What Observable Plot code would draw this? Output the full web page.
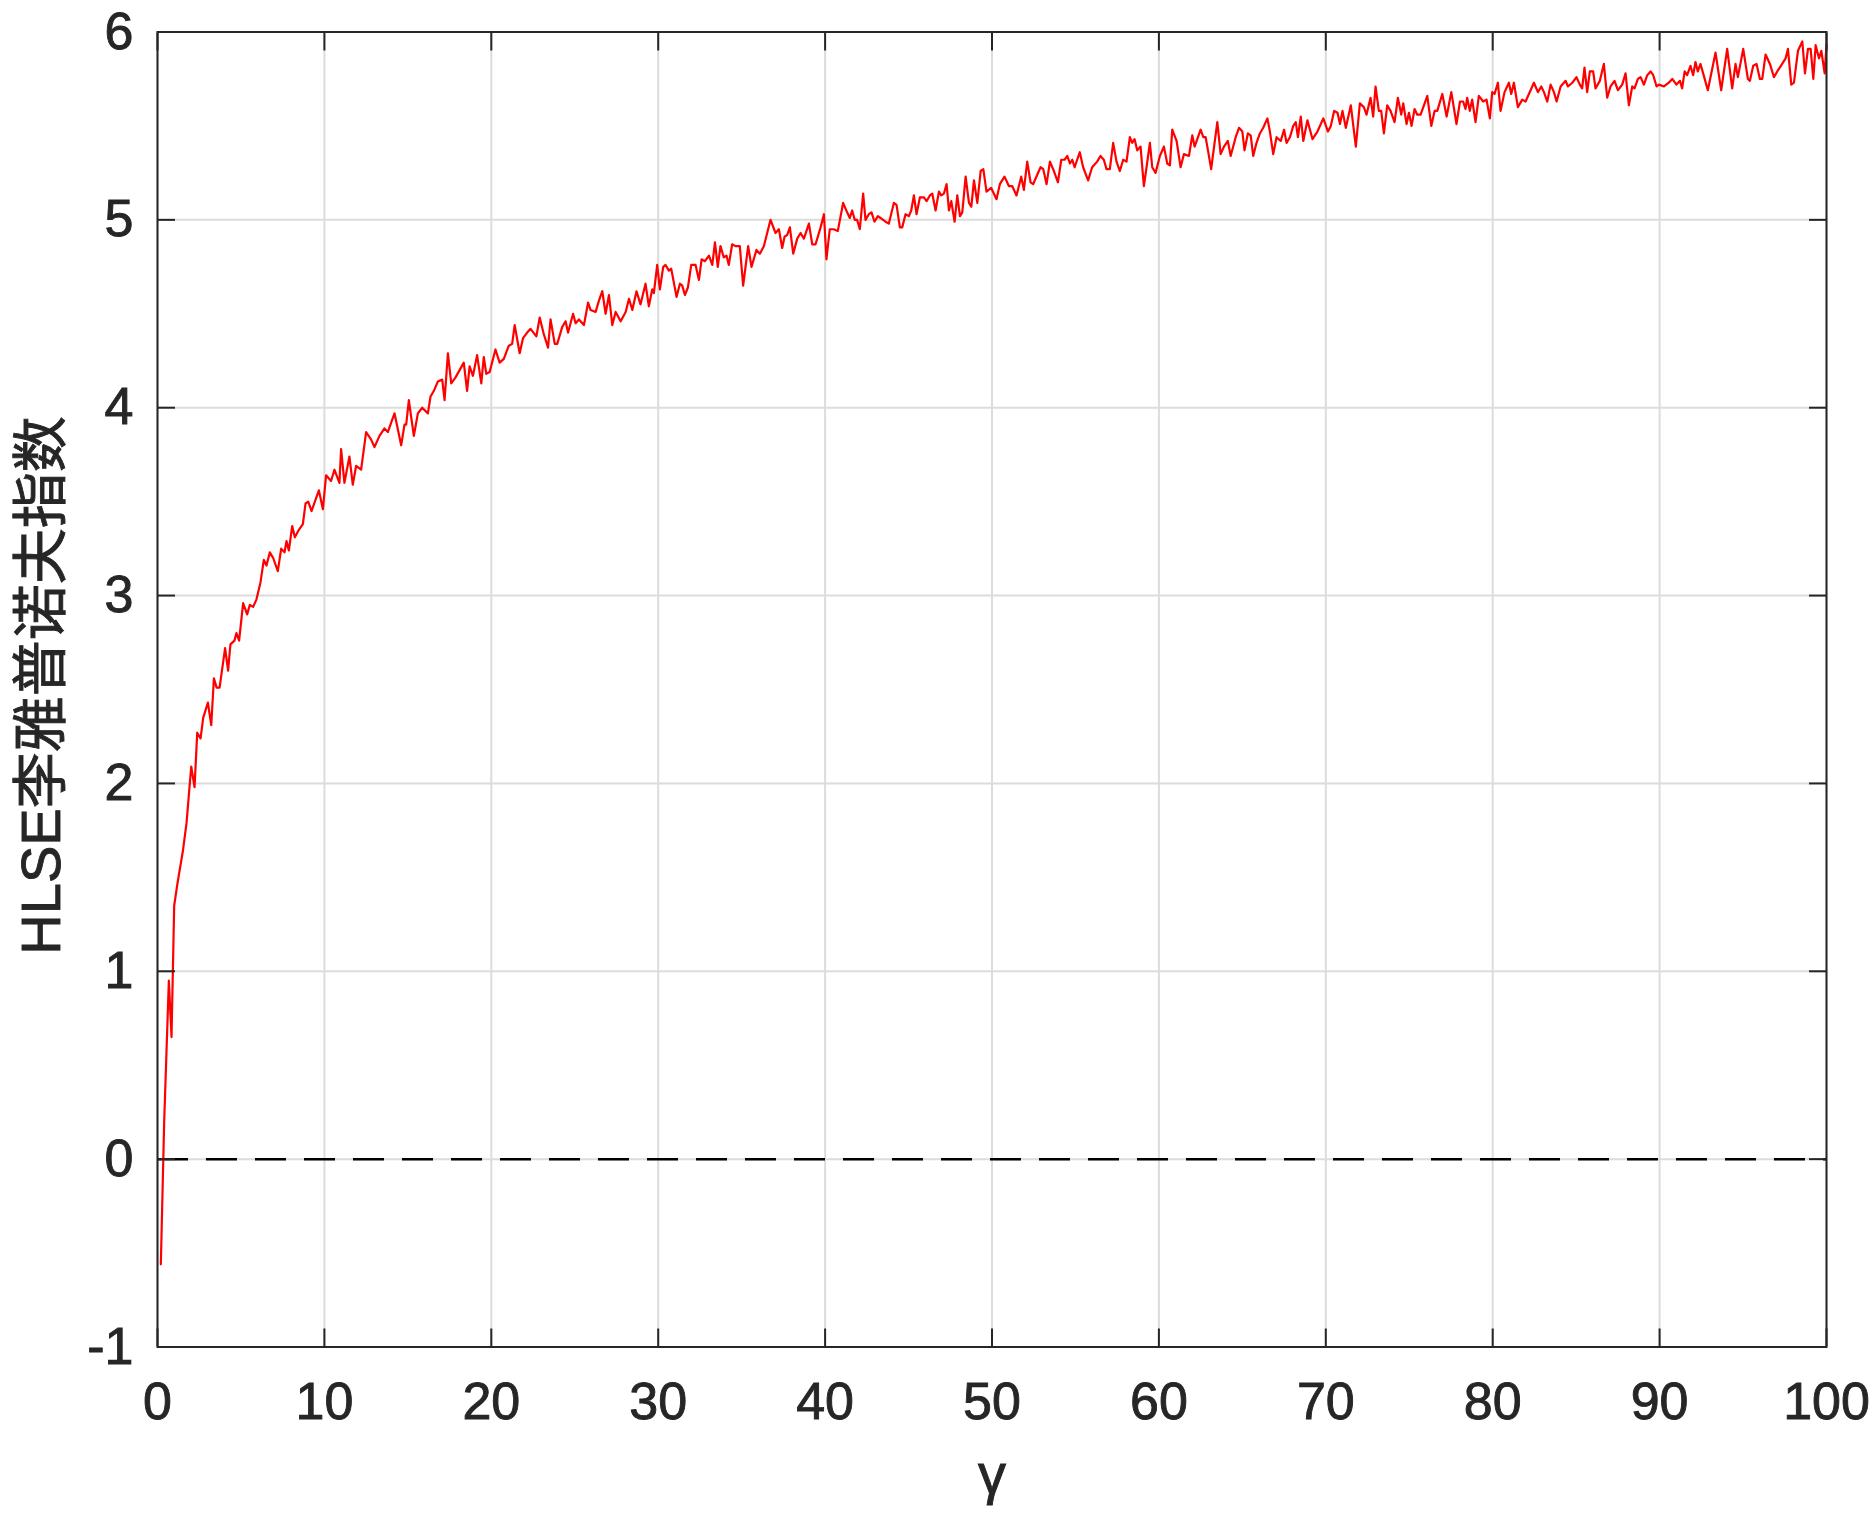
<!DOCTYPE html>
<html>
<head>
<meta charset="utf-8">
<script src="https://cdn.jsdelivr.net/npm/d3@7"></script>
<script src="https://cdn.jsdelivr.net/npm/@observablehq/plot@0.6"></script>
<style>
  html, body { margin: 0; padding: 0; background: #ffffff; }
  #chart svg { display: block; }
  #chart svg text { stroke: #262626; stroke-width: 0.9px; }
</style>
</head>
<body>
<div id="chart"></div>
<script>
// ---- data ----
const gammaValues = [
  0.2,0.4,0.68,0.84,1.0,1.2,1.52,1.74,2.02,2.22,2.38,2.58,2.74,3.02,3.22,3.38,3.54,3.72,4.05,4.23,
  4.37,4.61,4.73,4.89,5.13,5.37,5.53,5.73,5.93,6.17,6.37,6.53,6.73,6.93,7.21,7.41,7.61,7.73,7.87,8.07,
  8.23,8.47,8.71,8.87,9.03,9.23,9.43,9.67,9.91,10.1,10.4,10.6,10.9,11.0,11.2,11.5,11.7,11.9,12.2,12.5,
  12.8,13.0,13.3,13.6,13.8,14.0,14.2,14.6,14.8,14.9,15.06,15.2,15.36,15.6,15.86,16.2,16.36,16.56,16.8,17.06,
  17.2,17.4,17.6,17.85,18.1,18.35,18.55,18.7,18.9,19.15,19.4,19.55,19.7,19.9,20.25,20.5,20.75,21.05,21.25,21.4,
  21.7,21.9,22.15,22.35,22.7,22.9,23.15,23.4,23.55,23.8,23.95,24.25,24.45,24.6,24.9,25.05,25.25,25.55,25.8,25.95,
  26.25,26.45,26.65,26.85,27.05,27.25,27.45,27.75,28.05,28.25,28.45,28.7,28.94,29.24,29.44,29.64,29.74,29.94,30.1,30.3,
  30.44,30.64,30.78,31.1,31.3,31.44,31.6,31.78,31.98,32.24,32.44,32.6,32.8,33.04,33.24,33.4,33.57,33.73,33.93,34.09,
  34.23,34.43,34.63,34.89,35.09,35.39,35.59,35.89,36.09,36.33,36.53,36.73,37.03,37.23,37.43,37.57,37.73,37.89,38.09,38.33,
  38.53,38.73,39.03,39.23,39.43,39.73,39.93,40.08,40.28,40.52,40.76,41.08,41.32,41.48,41.62,41.78,41.92,42.08,42.28,42.42,
  42.62,42.78,42.96,43.16,43.32,43.62,43.82,44.12,44.28,44.48,44.62,44.82,45.02,45.16,45.32,45.48,45.68,45.92,46.08,46.28,
  46.42,46.62,46.82,46.96,47.12,47.28,47.42,47.56,47.76,47.92,48.08,48.22,48.42,48.62,48.76,48.92,49.12,49.32,49.48,49.67,
  49.95,50.27,50.47,50.75,51.01,51.21,51.47,51.75,51.91,52.11,52.31,52.47,52.71,52.91,53.07,53.27,53.47,53.71,53.95,54.15,
  54.35,54.51,54.67,54.81,54.95,55.26,55.46,55.76,56.0,56.3,56.5,56.7,56.86,57.06,57.26,57.46,57.66,57.86,58.06,58.26,
  58.4,58.54,58.7,58.9,59.1,59.26,59.46,59.6,59.8,60.06,60.3,60.5,60.66,60.8,61.06,61.3,61.5,61.8,62.0,62.14,
  62.3,62.5,62.66,62.8,62.94,63.13,63.5,63.7,63.9,64.13,64.3,64.6,64.8,65.0,65.13,65.33,65.5,65.65,65.85,66.05,
  66.25,66.5,66.65,66.85,67.05,67.3,67.5,67.65,67.85,68.05,68.2,68.33,68.5,68.65,68.9,69.2,69.5,69.85,70.13,70.3,
  70.5,70.7,70.85,71.0,71.2,71.5,71.8,72.04,72.28,72.44,72.68,72.84,72.98,73.18,73.32,73.48,73.68,73.88,74.12,74.32,
  74.52,74.64,74.84,74.98,75.14,75.32,75.48,75.68,75.88,76.08,76.32,76.52,76.68,76.98,77.24,77.52,77.83,78.04,78.23,78.37,
  78.47,78.63,78.77,78.97,79.17,79.43,79.63,79.83,79.97,80.11,80.31,80.47,80.71,80.97,81.11,81.27,81.51,81.77,81.97,82.17,
  82.47,82.71,82.91,83.07,83.27,83.47,83.67,83.83,84.07,84.37,84.51,84.77,85.02,85.22,85.36,85.5,85.66,85.82,86.02,86.16,
  86.42,86.66,86.86,87.06,87.3,87.5,87.76,87.96,88.16,88.36,88.5,88.7,88.86,89.06,89.26,89.46,89.62,89.82,89.96,90.26,
  90.55,90.76,91.01,91.22,91.35,91.5,91.65,91.85,92.01,92.15,92.29,92.45,92.61,92.89,93.35,93.69,94.05,94.35,94.55,94.69,
  95.01,95.29,95.41,95.61,95.81,96.01,96.15,96.35,96.61,96.85,97.05,97.41,97.55,97.69,97.89,98.05,98.29,98.55,98.71,98.89,
  99.05,99.21,99.35,99.55,99.69,99.89,100.0
];
const hlseValues = [
  -0.56,0.20,0.95,0.65,1.35,1.47,1.64,1.79,2.09,1.98,2.27,2.24,2.35,2.43,2.31,2.56,2.51,2.51,2.72,2.60,
  2.74,2.76,2.80,2.76,2.96,2.90,2.95,2.94,2.98,3.07,3.19,3.16,3.23,3.20,3.13,3.25,3.23,3.29,3.24,3.37,
  3.31,3.35,3.38,3.49,3.50,3.45,3.50,3.56,3.46,3.64,3.61,3.67,3.60,3.78,3.60,3.74,3.59,3.69,3.67,3.87,
  3.83,3.79,3.85,3.89,3.87,3.92,3.97,3.80,3.91,3.91,4.04,3.95,3.85,3.97,4.00,3.97,4.06,4.09,4.14,4.15,
  4.04,4.29,4.13,4.16,4.20,4.24,4.09,4.22,4.17,4.28,4.13,4.27,4.18,4.19,4.31,4.24,4.26,4.33,4.34,4.44,
  4.29,4.37,4.40,4.42,4.38,4.48,4.39,4.32,4.47,4.34,4.34,4.43,4.46,4.40,4.50,4.45,4.47,4.44,4.56,4.52,
  4.51,4.57,4.62,4.50,4.60,4.44,4.51,4.46,4.51,4.58,4.52,4.62,4.55,4.66,4.54,4.63,4.61,4.76,4.63,4.75,
  4.76,4.73,4.74,4.59,4.66,4.65,4.60,4.64,4.76,4.76,4.68,4.79,4.78,4.81,4.76,4.88,4.75,4.86,4.80,4.81,
  4.76,4.87,4.86,4.86,4.65,4.86,4.75,4.84,4.82,4.86,4.93,5.00,4.93,4.95,4.85,4.91,4.92,4.96,4.82,4.90,
  4.93,4.90,4.98,4.87,4.87,4.96,5.03,4.79,4.95,4.95,4.94,5.09,5.04,5.01,5.05,5.00,5.00,4.95,5.14,5.00,
  5.03,5.04,4.99,5.02,5.01,4.99,4.98,5.09,5.08,4.96,4.96,5.03,5.02,5.05,5.13,5.03,5.12,5.12,5.10,5.13,
  5.14,5.05,5.15,5.13,5.14,5.19,5.05,5.10,4.99,5.13,5.02,5.04,5.23,5.09,5.07,5.21,5.09,5.26,5.27,5.15,
  5.17,5.11,5.19,5.23,5.18,5.18,5.13,5.23,5.16,5.31,5.20,5.19,5.24,5.28,5.27,5.19,5.31,5.26,5.20,5.32,
  5.32,5.34,5.30,5.32,5.28,5.36,5.28,5.21,5.28,5.31,5.34,5.32,5.27,5.27,5.41,5.31,5.26,5.32,5.31,5.44,
  5.41,5.43,5.37,5.39,5.18,5.28,5.41,5.28,5.25,5.34,5.39,5.30,5.29,5.48,5.42,5.28,5.35,5.34,5.45,5.39,
  5.43,5.48,5.44,5.44,5.37,5.27,5.52,5.35,5.39,5.42,5.34,5.44,5.49,5.47,5.37,5.46,5.45,5.34,5.41,5.46,
  5.49,5.54,5.47,5.35,5.44,5.42,5.48,5.41,5.44,5.50,5.52,5.44,5.55,5.42,5.53,5.43,5.47,5.54,5.47,5.50,
  5.58,5.57,5.51,5.58,5.49,5.61,5.39,5.62,5.60,5.56,5.65,5.55,5.71,5.58,5.58,5.46,5.61,5.58,5.52,5.65,
  5.56,5.62,5.51,5.57,5.50,5.59,5.56,5.56,5.61,5.66,5.50,5.58,5.58,5.67,5.55,5.68,5.51,5.63,5.63,5.59,
  5.65,5.58,5.64,5.52,5.66,5.63,5.64,5.54,5.68,5.67,5.73,5.58,5.68,5.73,5.67,5.73,5.60,5.64,5.63,5.67,
  5.73,5.68,5.71,5.68,5.63,5.72,5.68,5.63,5.71,5.74,5.71,5.73,5.76,5.72,5.70,5.81,5.68,5.79,5.79,5.70,
  5.74,5.83,5.65,5.71,5.74,5.69,5.72,5.78,5.61,5.71,5.70,5.75,5.76,5.72,5.77,5.79,5.77,5.71,5.72,5.71,
  5.73,5.75,5.72,5.74,5.70,5.79,5.77,5.82,5.77,5.84,5.79,5.83,5.78,5.69,5.89,5.69,5.91,5.70,5.83,5.76,
  5.91,5.75,5.74,5.82,5.83,5.75,5.75,5.88,5.83,5.76,5.79,5.84,5.86,5.91,5.72,5.73,5.90,5.95,5.78,5.91,
  5.91,5.75,5.93,5.86,5.90,5.78,5.93
];
const xTicks = [0, 10, 20, 30, 40, 50, 60, 70, 80, 90, 100];
const yTicks = [-1, 0, 1, 2, 3, 4, 5, 6];
const zeroLine = [0];
const xLabel = "γ";
const yLabel = "HLSE李雅普诺夫指数";

const data = gammaValues.map((g, i) => ({gamma: g, hlse: hlseValues[i]}));

const axisInk = "#262626";
const chart = Plot.plot({
  width: 1876,
  height: 1513,
  marginLeft: 157,
  marginRight: 50,
  marginTop: 31.5,
  marginBottom: 166.5,
  x: {domain: [0, 100], label: null},
  y: {domain: [-1, 6], label: null},
  style: {background: "#ffffff", color: axisInk, fontFamily: "'Liberation Sans', Arial, 'Noto Sans CJK SC', sans-serif"},
  marks: [
    Plot.gridX(xTicks, {stroke: "#dcdcdc", strokeOpacity: 1, strokeWidth: 2}),
    Plot.gridY(yTicks, {stroke: "#dcdcdc", strokeOpacity: 1, strokeWidth: 2}),
    Plot.ruleY(zeroLine, {stroke: "#000000", strokeWidth: 2.5, strokeDasharray: "31,18"}),
    Plot.line(data, {x: "gamma", y: "hlse", stroke: "#ff0000", strokeWidth: 2.2}),
    Plot.frame({stroke: axisInk, strokeWidth: 2}),
    // inward tick marks on all four sides
    Plot.axisX(xTicks, {anchor: "bottom", tickSize: 18, dy: -18, tickFormat: () => "", stroke: axisInk, strokeWidth: 2, label: null}),
    Plot.axisX(xTicks, {anchor: "top", tickSize: 18, dy: 18, tickFormat: () => "", stroke: axisInk, strokeWidth: 2, label: null}),
    Plot.axisY(yTicks, {anchor: "left", tickSize: 18, dx: 18, tickFormat: () => "", stroke: axisInk, strokeWidth: 2, label: null}),
    Plot.axisY(yTicks, {anchor: "right", tickSize: 18, dx: -18, tickFormat: () => "", stroke: axisInk, strokeWidth: 2, label: null}),
    // tick labels
    Plot.axisX(xTicks, {anchor: "bottom", tickSize: 0, tickPadding: 35, fontSize: 52, tickFormat: d => String(d), fill: axisInk, label: null}),
    Plot.axisY(yTicks, {anchor: "left", tickSize: 0, tickPadding: 24, fontSize: 52, tickFormat: d => String(d), fill: axisInk, label: null}),
    // axis titles
    Plot.text([xLabel], {frameAnchor: "bottom", dy: 145.5, textAnchor: "middle", lineAnchor: "bottom", fontSize: 56, fill: axisInk}),
    Plot.text([yLabel], {frameAnchor: "left", rotate: -90, dx: -98, dy: -4, textAnchor: "middle", lineAnchor: "bottom", fontSize: 56, fill: axisInk})
  ]
});
document.getElementById("chart").appendChild(chart);
</script>
</body>
</html>
